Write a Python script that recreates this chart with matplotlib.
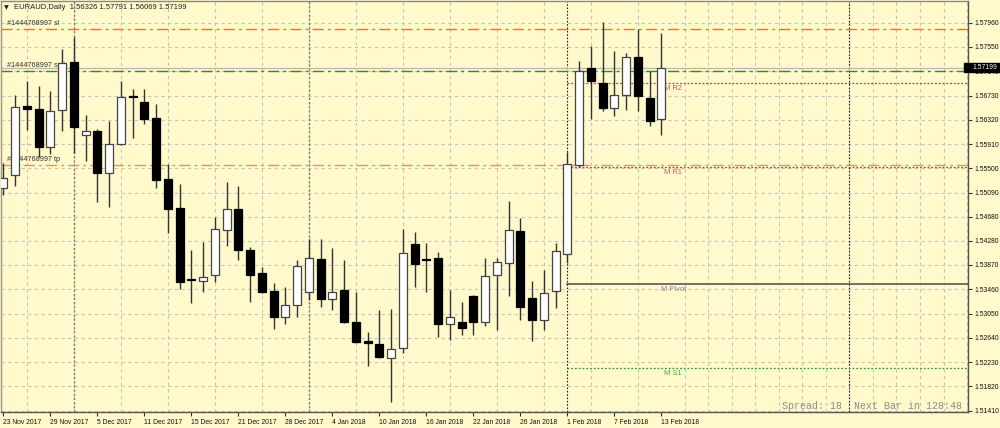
import matplotlib
matplotlib.use('Agg')
import matplotlib.pyplot as plt
import matplotlib.transforms as mtransforms
from matplotlib.patches import Rectangle

# ---------------- data ----------------
symbol_title = "EURAUD,Daily"
header_values = "1.56326 1.57791 1.56069 1.57199"

x_tick_labels = ["23 Nov 2017", "29 Nov 2017", "5 Dec 2017", "11 Dec 2017", "15 Dec 2017",
                 "21 Dec 2017", "28 Dec 2017", "4 Jan 2018", "10 Jan 2018", "16 Jan 2018",
                 "22 Jan 2018", "26 Jan 2018", "1 Feb 2018", "7 Feb 2018", "13 Feb 2018"]

opens = [1.55175, 1.55389, 1.56554, 1.56503, 1.55857, 1.56486, 1.57302, 1.56064, 1.56132, 1.55418,
         1.55912, 1.56723, 1.56616, 1.56346, 1.55322, 1.54827, 1.53633, 1.53595, 1.53706, 1.54466,
         1.54815, 1.54128, 1.53735, 1.53431, 1.52997, 1.53189, 1.53419, 1.53976, 1.53296, 1.53448,
         1.52913, 1.52582, 1.52531, 1.52295, 1.52464, 1.54229, 1.53976, 1.53983, 1.52869, 1.52913,
         1.53346, 1.52913, 1.53696, 1.53898, 1.54444, 1.53318, 1.52941, 1.53431, 1.54055, 1.55558,
         1.57190, 1.56947, 1.56515, 1.56734, 1.57376, 1.56689, 1.56326]
highs = [1.55597, 1.56740, 1.56976, 1.56891, 1.56812, 1.57511, 1.57724, 1.56402, 1.56166, 1.56306,
         1.56976, 1.56836, 1.56836, 1.56588, 1.55570, 1.55232, 1.54123, 1.54263, 1.54675, 1.55276,
         1.55203, 1.54168, 1.53831, 1.53561, 1.53493, 1.53954, 1.54304, 1.54309, 1.54152, 1.53954,
         1.53409, 1.52744, 1.53110, 1.53122, 1.54472, 1.54422, 1.54236, 1.54094, 1.53448, 1.53250,
         1.53363, 1.53983, 1.53993, 1.54950, 1.54658, 1.53600, 1.53785, 1.54246, 1.55782, 1.57313,
         1.57572, 1.57967, 1.57482, 1.57454, 1.57854, 1.57145, 1.57791]
lows = [1.55051, 1.55208, 1.56149, 1.55698, 1.55744, 1.56137, 1.55755, 1.55625, 1.54933, 1.54854,
        1.55895, 1.56014, 1.56250, 1.55165, 1.54405, 1.53470, 1.53223, 1.53419, 1.53588, 1.54191,
        1.53954, 1.53250, 1.53402, 1.52784, 1.52869, 1.52997, 1.53279, 1.53156, 1.53110, 1.52886,
        1.52548, 1.52170, 1.52300, 1.51552, 1.52379, 1.53503, 1.53409, 1.52659, 1.52604, 1.52688,
        1.52688, 1.52840, 1.52773, 1.53346, 1.52941, 1.52592, 1.52773, 1.53139, 1.53903, 1.55529,
        1.56334, 1.56475, 1.56385, 1.56486, 1.56469, 1.56221, 1.56069]
closes = [1.55333, 1.56542, 1.56498, 1.55857, 1.56464, 1.57285, 1.56199, 1.56127, 1.55428, 1.55917,
          1.56701, 1.56701, 1.56339, 1.55305, 1.54820, 1.53588, 1.53617, 1.53667, 1.54483, 1.54815,
          1.54128, 1.53701, 1.53419, 1.52997, 1.53194, 1.53848, 1.53983, 1.53296, 1.53419, 1.52913,
          1.52565, 1.52548, 1.52312, 1.52457, 1.54067, 1.53882, 1.53949, 1.52869, 1.52987, 1.52801,
          1.52913, 1.53684, 1.53925, 1.54466, 1.53166, 1.52941, 1.53397, 1.54106, 1.55570, 1.57145,
          1.56976, 1.56515, 1.56734, 1.57376, 1.56723, 1.56301, 1.57199]

y_tick_labels = ["1.51410", "1.51820", "1.52230", "1.52640", "1.53050", "1.53460", "1.53870",
                 "1.54280", "1.54680", "1.55090", "1.55500", "1.55910", "1.56320", "1.56730",
                 "1.57140", "1.57550", "1.57960"]

order_labels = ["#1444768997 sl", "#1444768997 sell", "#1444768997 tp"]
order_levels = [1.57859, 1.57145, 1.55563]

pivot_names = ["M R2", "M R1", "M Pivot", "M S1"]
pivot_levels = [1.56942, 1.55529, 1.53544, 1.52126]

bid_price = 1.57199
bid_label = "1.57199"
separator_bars = [6, 26, 48, 72]
pivot_start_bar = 48
status_text = "Spread: 18  Next Bar in 128:48"

# ---------------- style ----------------
BG = '#FFF9CC'
GRID = '#C4C4BC'
FONT = 'Liberation Sans'

fig = plt.figure(figsize=(10, 4.28), dpi=100, facecolor=BG)
ax = fig.add_axes([0.001, 0.0374, 0.967, 0.9603])
ax.set_facecolor(BG)

n = len(opens)
ax.set_xlim(-0.21, 82.085)
ax.set_ylim(1.51388, 1.58326)

# grid
ax.set_axisbelow(True)
ax.set_xticks(list(range(0, 83, 2)), minor=True)
ax.set_yticks([float(t) for t in y_tick_labels])
ax.set_yticklabels(y_tick_labels)
ax.set_xticks(list(range(0, n, 4)))
ax.set_xticklabels(x_tick_labels, ha='left')
ax.grid(True, which='minor', axis='x', color=GRID, linestyle=(0, (3, 3)), linewidth=0.8)
ax.grid(True, which='major', axis='y', color=GRID, linestyle=(0, (3, 3)), linewidth=0.8)

ax.yaxis.tick_right()
ax.tick_params(axis='y', which='major', length=3, width=0.8, pad=1.5, labelsize=4.9,
               colors='#333333', labelcolor='#111111')
ax.tick_params(axis='x', which='major', length=3, width=0.8, pad=2, labelsize=4.9,
               colors='#333333', labelcolor='#111111')
ax.tick_params(axis='x', which='minor', length=0)
for lab in ax.get_xticklabels() + ax.get_yticklabels():
    lab.set_fontfamily(FONT)

for side, sp in ax.spines.items():
    sp.set_color('#555555')
    sp.set_linewidth(1.0)
ax.spines['left'].set_color('#9a9a80')
ax.spines['top'].set_color('#8a8a80')

# period separators
for k, b in enumerate(separator_bars):
    col = '#7a7a7a' if k < 2 else '#222222'
    ax.axvline(b, color=col, linestyle=(0, (1.5, 1.5)), linewidth=1.0 if k < 2 else 0.8, zorder=1.5)

# order lines
order_colors = ['#FF6A30', '#2E8B2E', '#FF8A55']
for lbl, lev, col in zip(order_labels, order_levels, order_colors):
    ax.axhline(lev, color=col, linestyle=(0, (8, 3, 2, 3)), linewidth=1.0, zorder=2)
    ax.annotate(lbl, xy=(0.3, lev), xytext=(0, 1.2), textcoords='offset points',
                fontsize=5.2, family=FONT, color='#333333', va='bottom', ha='left', zorder=2.2)

# bid line
ax.axhline(bid_price, color='#B8B8B0', linewidth=0.9, zorder=1.8)

# pivot lines
piv_line_colors = ['#B04545', '#B04545', '#6E6E6E', '#3C9A3C']
piv_text_colors = ['#D05A5A', '#D05A5A', '#8A8A8A', '#4AA84A']
piv_styles = [(0, (1.5, 1.5)), (0, (1.5, 1.5)), '-', (0, (1.5, 1.5))]
piv_widths = [0.9, 0.9, 1.4, 0.9]
for name, lev, lc, tc, ls, lw in zip(pivot_names, pivot_levels, piv_line_colors,
                                      piv_text_colors, piv_styles, piv_widths):
    ax.plot([pivot_start_bar, 82.085], [lev, lev], color=lc, linestyle=ls, linewidth=lw, zorder=2)
    ax.annotate(name, xy=(57.0, lev), xytext=(0, -1.5), textcoords='offset points',
                fontsize=5.4, family=FONT, color=tc, va='top', ha='center', zorder=2.2)

# candles
body_w = 0.68
for i in range(n):
    o, h, l, c = opens[i], highs[i], lows[i], closes[i]
    ax.vlines(i, l, h, color='#333333', linewidth=1.0, zorder=3)
    bottom = min(o, c)
    height = max(abs(c - o), 0.00005)
    if c >= o:
        ax.bar(i, height, bottom=bottom, width=body_w, facecolor='white',
               edgecolor='#444444', linewidth=0.9, zorder=4)
    else:
        ax.bar(i, height, bottom=bottom, width=body_w, facecolor='black',
               edgecolor='black', linewidth=0.9, zorder=4)

# title
fig.text(6.5 / 1000, 1 - 7.5 / 428, '\u25BC', fontsize=4.5, family='DejaVu Sans',
         color='#222222', va='center', ha='center')
fig.text(14 / 1000, 1 - 7.5 / 428, symbol_title + '  ' + header_values, fontsize=5.5,
         family=FONT, color='#222222', va='center', ha='left')

# current price box on right axis
blend = mtransforms.blended_transform_factory(fig.transFigure, ax.transData)
ax.add_patch(Rectangle((964 / 1000, bid_price - 0.00075), 36 / 1000, 0.0015,
                       transform=blend, facecolor='black', edgecolor='black',
                       clip_on=False, zorder=10))
ax.text(972.5 / 1000, bid_price, bid_label, transform=blend, fontsize=4.9, family=FONT,
        color='white', va='center', ha='left', zorder=11, clip_on=False)

# status text
fig.text(962 / 1000, 1 - 406 / 428, status_text, fontsize=7.2, family='Liberation Mono',
         color='#8C8C8C', va='center', ha='right')

fig.savefig('out.png', dpi=100, facecolor=BG)
